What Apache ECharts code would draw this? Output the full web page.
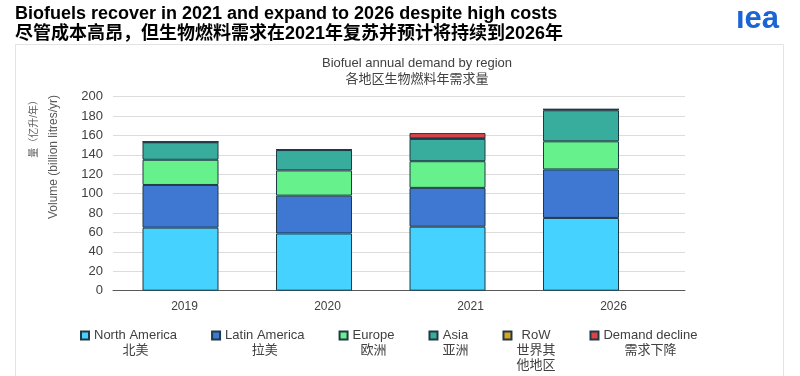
<!DOCTYPE html>
<html>
<head>
<meta charset="utf-8">
<script src="https://cdn.jsdelivr.net/npm/echarts@6/dist/echarts.min.js"></script>
<style>
  html, body { margin: 0; padding: 0; background: #fff; }
  #main { width: 800px; height: 376px; }
</style>
</head>
<body>
<div id="main"></div>
<script>
// data (billion litres / yr)
const years = ['2019', '2020', '2021', '2026']
const northAmerica = [65, 59, 66, 75]
const latinAmerica = [44, 39, 40, 50]
const europe = [26, 26, 27.5, 29]
const asia = [18, 21, 23, 32]
const restOfWorld = [0.5, 0.5, 0.5, 1]
const demandDecline = [0, 0, 5.5, 0]

const seriesNames = ['North America', 'Latin America', 'Europe', 'Asia', 'RoW', 'Demand decline']
const seriesZh = ['北美', '拉美', '欧洲', '亚洲', '世界其\n他地区', '需求下降']
const seriesData = [northAmerica, latinAmerica, europe, asia, restOfWorld, demandDecline]
const colors = ['#46d2fe', '#3f78d2', '#66f18d', '#38ad9d', '#d9a520', '#d9444a']

const FONT = 'Liberation Sans, Arial, Noto Sans CJK SC, sans-serif'

let chart = echarts.init(document.getElementById('main'))

// padding on top keeps the icon level with the english line
let legendData = seriesNames.map((name, i) => {
  let lines = seriesZh[i].split('\n').length + 1
  return {
    name: name,
    textStyle: { padding: [(lines - 1) * 15, 0, 0, 0] }
  }
})

let option = {
  animation: false,
  color: colors,
  textStyle: { fontFamily: FONT },
  graphic: [
    // card behind the chart
    {
      type: 'rect', z: -10, silent: true,
      shape: { x: 15.5, y: 44.5, width: 768, height: 340 },
      style: { fill: '#fff', stroke: '#e3e3e3', lineWidth: 1 }
    },
    {
      type: 'text', left: 15, top: 5,
      style: { text: 'Biofuels recover in 2021 and expand to 2026 despite high costs', font: 'bold 18px ' + FONT, fill: '#000' }
    },
    {
      type: 'text', left: 15, top: 25,
      style: { text: '尽管成本高昂，但生物燃料需求在2021年复苏并预计将持续到2026年', font: 'bold 18px ' + FONT, fill: '#000' }
    },
    {
      type: 'text', right: 21, top: 4,
      style: { text: 'ıea', font: 'bold 31px ' + FONT, fill: '#1b64d4' }
    },
    // y axis name
    {
      type: 'text', x: 44, y: 95, rotation: Math.PI / 2,
      style: {
        text: '{zh|量（亿升/年）}\n{en|Volume (billion litres/yr)}',
        align: 'right', verticalAlign: 'middle',
        rich: {
          zh: { fontSize: 10, lineHeight: 19, fill: '#595959', align: 'right', fontFamily: FONT },
          en: { fontSize: 12, lineHeight: 19, fill: '#595959', align: 'right', fontFamily: FONT }
        }
      }
    }
  ],
  title: {
    text: 'Biofuel annual demand by region\n各地区生物燃料年需求量',
    left: 412, top: 50, textAlign: 'center',
    textStyle: { fontSize: 13, fontWeight: 'normal', color: '#404040', lineHeight: 16, fontFamily: FONT }
  },
  legend: {
    left: 80, top: 329, padding: 0,
    itemWidth: 8, itemHeight: 8, itemGap: 34,
    icon: 'rect',
    data: legendData,
    formatter: name => '{en|' + name + '}\n{zh|' + seriesZh[seriesNames.indexOf(name)].replace('\n', '}\n{zh|') + '}',
    textStyle: {
      color: '#404040',
      rich: {
        en: { fontSize: 13, lineHeight: 15, align: 'center', color: '#404040', fontFamily: FONT },
        zh: { fontSize: 13, lineHeight: 15, align: 'center', color: '#404040', fontFamily: FONT }
      }
    }
  },
  grid: [
    // bars
    { left: 113.75, right: 152.25, top: 96.7, bottom: 85.3 },
    // gridlines, y labels and year labels
    { left: 113, right: 115, top: 96.7, bottom: 85.3 }
  ],
  xAxis: [
    { type: 'category', gridIndex: 0, data: years, show: false },
    {
      type: 'category', gridIndex: 1, data: years,
      axisLine: { lineStyle: { color: '#595959', width: 1 } },
      axisTick: { show: false },
      axisLabel: { fontSize: 12, color: '#404040', margin: 10 }
    }
  ],
  yAxis: [
    { type: 'value', gridIndex: 0, min: 0, max: 200, interval: 20, show: false },
    {
      type: 'value', gridIndex: 1, min: 0, max: 200, interval: 20,
      axisLine: { show: false },
      axisTick: { show: false },
      axisLabel: { fontSize: 13, color: '#404040', margin: 10 },
      splitLine: { lineStyle: { color: '#dcdcdc', width: 1 } }
    }
  ],
  series: seriesNames.map((name, i) => ({
    name: name,
    type: 'bar',
    stack: 'total',
    xAxisIndex: 0,
    yAxisIndex: 0,
    barWidth: 76,
    data: seriesData[i],
    itemStyle: { color: colors[i], borderColor: '#1e3a46', borderWidth: 1 },
    emphasis: { disabled: true }
  }))
}

chart.setOption(option)
</script>
</body>
</html>
